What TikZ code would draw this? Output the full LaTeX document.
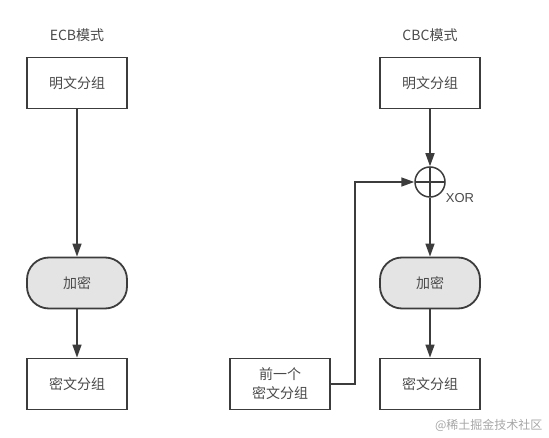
\documentclass[tikz,border=0pt]{standalone}
\usepackage{fontspec}
\setmainfont{Liberation Sans}
\newfontfamily\cjk{Noto Sans CJK SC}
\usetikzlibrary{arrows.meta}
\definecolor{ink}{HTML}{3C3C3C}
\definecolor{txt}{HTML}{4A4A4A}
\definecolor{encfill}{HTML}{E4E4E4}
\tikzset{
  blockbox/.style={draw=ink, line width=1.8pt, minimum width=100pt, minimum height=51pt, inner sep=0pt, text=txt, font=\cjk\fontsize{14}{17}\selectfont, align=center},
  encbox/.style={blockbox, fill=encfill, rounded corners=22pt},
  titletext/.style={text=txt, font=\cjk\fontsize{14}{17}\selectfont},
  arr/.style={draw=ink, line width=1.5pt, -{Triangle[length=13pt,width=9pt]}},
  xorcirc/.style={circle, draw=ink, line width=1.5pt, minimum size=30pt, inner sep=0pt,
    path picture={\draw[ink, line width=1.5pt] (path picture bounding box.north) -- (path picture bounding box.south) (path picture bounding box.west) -- (path picture bounding box.east);}},
}
\begin{document}
\begin{tikzpicture}[x=1pt,y=-1pt]
\useasboundingbox (0,0) rectangle (549,438);
% ECB
\node[titletext] (ecbt) at (77,35) {ECB模式};
\node[blockbox] (ecbp) at (77,83) {明文分组};
\node[encbox] (ecbe) at (77,283) {加密};
\node[blockbox] (ecbc) at (77,384) {密文分组};
\draw[arr] (ecbp) -- (ecbe);
\draw[arr] (ecbe) -- (ecbc);
% CBC
\node[titletext] (cbct) at (430,35) {CBC模式};
\node[blockbox] (cbcp) at (430,83) {明文分组};
\node[xorcirc] (xor) at (430,182) {};
\node[text=txt, font=\fontsize{13}{15}\selectfont] (xorl) at (460,198) {XOR};
\node[encbox] (cbce) at (430,283) {加密};
\node[blockbox] (cbcc) at (430,384) {密文分组};
\node[blockbox, font=\cjk\fontsize{14}{19}\selectfont] (prev) at (280,384) {前一个\\密文分组};
\coordinate (turn) at (355,182);
\draw[arr] (cbcp) -- (xor);
\draw[arr] (xor) -- (cbce);
\draw[arr] (cbce) -- (cbcc);
\draw[arr] (prev.east) -| (turn) -- (xor.west);
% watermark
\node[text=black!35, font=\cjk\fontsize{12}{14}\selectfont, anchor=east] (wm) at (546,425) {@稀土掘金技术社区};
\end{tikzpicture}
\end{document}
